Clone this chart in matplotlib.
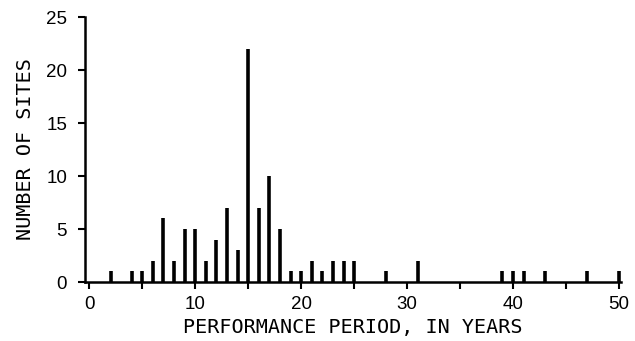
import matplotlib.pyplot as plt

# performance period (years) and how many sites reached it
years = [2, 4, 5, 6, 7, 8, 9, 10, 11, 12, 13, 14, 15, 16, 17, 18, 19, 20,
         21, 22, 23, 24, 25, 28, 31, 39, 40, 41, 43, 47, 50]
sites = [1, 1, 1, 2, 6, 2, 5, 5, 2, 4, 7, 3, 22, 7, 10, 5, 1, 1,
         2, 1, 2, 2, 2, 1, 2, 1, 1, 1, 1, 1, 1]

x_ticks = [0, 10, 20, 30, 40, 50]
y_ticks = [0, 5, 10, 15, 20, 25]

fig = plt.figure(figsize=(6.35, 3.41), dpi=100)
ax = fig.add_axes([0.134, 0.173, 0.844, 0.777])

ax.vlines(years, 0, sites, colors="black", linewidth=2.6)

ax.set_xlim(-0.4, 50.2)
ax.set_ylim(0, 25)
ax.set_xticks(x_ticks)
ax.set_xticks(range(0, 51, 5), minor=True)
ax.set_yticks(y_ticks)

for side in ["top", "right"]:
    ax.spines[side].set_visible(False)
for side in ["left", "bottom"]:
    ax.spines[side].set_linewidth(1.8)

ax.tick_params(axis="both", which="both", direction="out", length=5, width=1.5,
               labelsize=13.5)
ax.tick_params(axis="y", pad=8)
ax.tick_params(axis="x", pad=5)
for lbl in ax.get_xticklabels() + ax.get_yticklabels():
    lbl.set_family("Liberation Sans")

ax.set_xlabel("PERFORMANCE PERIOD, IN YEARS", family="DejaVu Sans Mono",
              fontsize=14.5, labelpad=4)
ax.set_ylabel("NUMBER OF SITES", family="DejaVu Sans Mono",
              fontsize=14.5, labelpad=8)

fig.savefig("out.png", dpi=100)
